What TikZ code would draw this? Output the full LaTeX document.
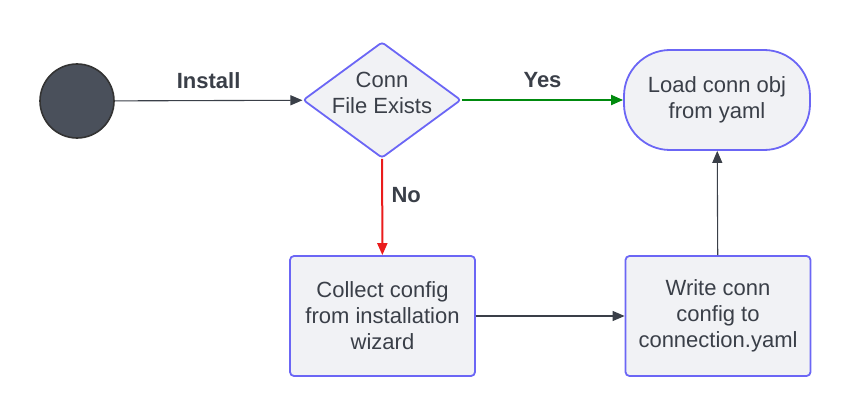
\documentclass[tikz,border=0pt]{standalone}
\usepackage{fontspec}
\setmainfont{Liberation Sans}
\usetikzlibrary{shapes.geometric,arrows.meta}
\definecolor{ink}{HTML}{3A3F48}
\definecolor{edge}{HTML}{6B66F5}
\definecolor{pale}{HTML}{F1F2F5}
\definecolor{dot}{HTML}{4A505B}
\definecolor{yesgreen}{HTML}{008A0E}
\definecolor{nored}{HTML}{EA1C1C}
\begin{document}
\begin{tikzpicture}[x=1pt,y=-1pt,
    font=\fontsize{22}{26}\selectfont, text=ink,
    box/.style={draw=edge, fill=pale, line width=1.8pt, rounded corners=4pt,
        minimum width=185pt, minimum height=120pt, align=center},
    flow/.style={ink, line width=1.1pt, -{Triangle[length=12pt,width=10pt]}},
    lbl/.style={text=ink, font=\fontsize{22}{26}\selectfont\bfseries}]
                    \useasboundingbox (0,0) rectangle (851,417);
                    \node[circle, draw=black!80, fill=dot, line width=1.6pt, minimum size=74pt] (start) at (77,101) {};
                    \node[diamond, draw=edge, fill=pale, line width=1.8pt, rounded corners=3pt,
                        minimum width=158pt, minimum height=116pt] (check) at (382,100) {};
                    \node[align=center] (checkTxt) at (382,92.5) {Conn\\File Exists};
                    \node[box, minimum width=186pt, minimum height=100pt, rounded corners=46pt] (load) at (717,100) {Load conn obj\\from yaml};
                    \node[box] (collect) at (382.5,316) {Collect config\\from installation\\wizard};
                    \node[box] (write) at (718,316) {Write conn\\config to\\connection.yaml};

                    \draw[flow] (start) --node[above=8pt, lbl] {Install} (check);
                    \draw[flow, yesgreen, line width=2pt] (check) --node[above=8pt, lbl] {Yes} (load);
                    \draw[flow, nored, line width=2pt] (check) --node[pos=0.38, right=5pt, lbl] {No} (collect);
                    \draw[flow] (collect) -- (write);
                    \draw[flow] (write) -- (load);
                    %流程%
                \end{tikzpicture}
\end{document}
